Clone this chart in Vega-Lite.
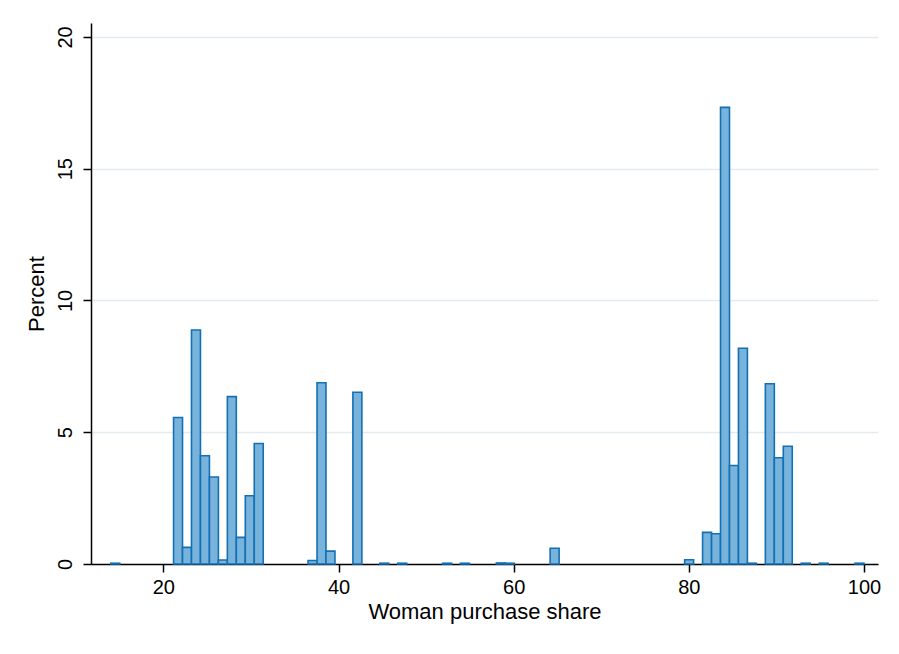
{
  "$schema": "https://vega.github.io/schema/vega-lite/v6.json",
  "width": 787,
  "height": 541,
  "autosize": {"type": "none"},
  "padding": {"left": 91, "top": 23, "right": 21, "bottom": 90},
  "background": "white",
  "config": {
    "view": {"stroke": null},
    "font": "Liberation Sans"
  },
  "data": {
    "values": [
      {"start": 14.000, "end": 15.024, "pct": 0.03},
      {"start": 21.167, "end": 22.190, "pct": 5.56},
      {"start": 22.190, "end": 23.214, "pct": 0.63},
      {"start": 23.214, "end": 24.238, "pct": 8.88},
      {"start": 24.238, "end": 25.262, "pct": 4.11},
      {"start": 25.262, "end": 26.286, "pct": 3.30},
      {"start": 26.286, "end": 27.310, "pct": 0.15},
      {"start": 27.310, "end": 28.333, "pct": 6.35},
      {"start": 28.333, "end": 29.357, "pct": 1.01},
      {"start": 29.357, "end": 30.381, "pct": 2.59},
      {"start": 30.381, "end": 31.405, "pct": 4.57},
      {"start": 36.524, "end": 37.548, "pct": 0.13},
      {"start": 37.548, "end": 38.571, "pct": 6.88},
      {"start": 38.571, "end": 39.595, "pct": 0.49},
      {"start": 41.643, "end": 42.667, "pct": 6.52},
      {"start": 44.714, "end": 45.738, "pct": 0.03},
      {"start": 46.762, "end": 47.786, "pct": 0.03},
      {"start": 51.881, "end": 52.905, "pct": 0.03},
      {"start": 53.929, "end": 54.952, "pct": 0.03},
      {"start": 58.024, "end": 59.048, "pct": 0.04},
      {"start": 59.048, "end": 60.071, "pct": 0.03},
      {"start": 64.167, "end": 65.190, "pct": 0.6},
      {"start": 79.524, "end": 80.548, "pct": 0.16},
      {"start": 81.571, "end": 82.595, "pct": 1.2},
      {"start": 82.595, "end": 83.619, "pct": 1.15},
      {"start": 83.619, "end": 84.643, "pct": 17.33},
      {"start": 84.643, "end": 85.667, "pct": 3.74},
      {"start": 85.667, "end": 86.690, "pct": 8.19},
      {"start": 86.690, "end": 87.714, "pct": 0.03},
      {"start": 88.738, "end": 89.762, "pct": 6.84},
      {"start": 89.762, "end": 90.786, "pct": 4.03},
      {"start": 90.786, "end": 91.810, "pct": 4.47},
      {"start": 92.833, "end": 93.857, "pct": 0.03},
      {"start": 94.881, "end": 95.905, "pct": 0.03},
      {"start": 98.976, "end": 100.000, "pct": 0.03}
    ]
  },
  "mark": {"type": "rect", "fill": "#78b3db", "stroke": "#1470b5", "strokeWidth": 1.6},
  "encoding": {
    "x": {
      "field": "start",
      "type": "quantitative",
      "scale": {"domain": [11.74, 101.6], "nice": false, "zero": false},
      "axis": {
        "title": "Woman purchase share",
        "values": [20, 40, 60, 80, 100],
        "grid": false,
        "domainColor": "black",
        "domainWidth": 1.5,
        "tickColor": "black",
        "tickWidth": 1.5,
        "tickSize": 8,
        "labelFontSize": 20,
        "labelColor": "black",
        "labelPadding": 5,
        "titleFontSize": 22,
        "titleFontWeight": "normal",
        "titleColor": "black",
        "titlePadding": 4
      }
    },
    "x2": {"field": "end"},
    "y": {
      "field": "pct",
      "type": "quantitative",
      "scale": {"domain": [0, 20.53], "nice": false},
      "axis": {
        "title": "Percent",
        "values": [0, 5, 10, 15, 20],
        "grid": true,
        "gridColor": "#e3ebf0",
        "gridWidth": 1.5,
        "domainColor": "black",
        "domainWidth": 1.5,
        "tickColor": "black",
        "tickWidth": 1.5,
        "tickSize": 8,
        "labelAngle": -90,
        "labelAlign": "center",
        "labelBaseline": "alphabetic",
        "labelFontSize": 20,
        "labelColor": "black",
        "labelPadding": 12,
        "titleFontSize": 22,
        "titleFontWeight": "normal",
        "titleColor": "black",
        "titlePadding": 7
      }
    },
    "y2": {"datum": 0}
  }
}
